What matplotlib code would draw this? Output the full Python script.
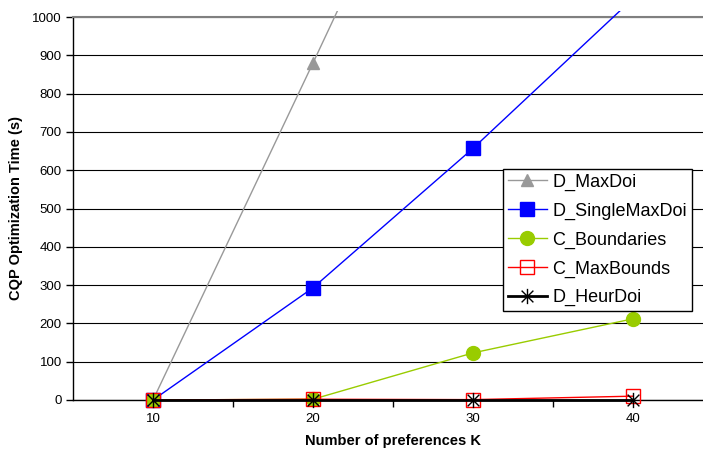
import matplotlib
matplotlib.use("Agg")
import matplotlib.pyplot as plt
from matplotlib.path import Path
from matplotlib.transforms import Bbox, TransformedBbox
from matplotlib.ticker import MultipleLocator, FixedLocator

plt.rcParams['font.family'] = ['Liberation Sans', 'DejaVu Sans']

# data
k_values = [10, 20, 30, 40]
d_maxdoi = [0, 880, 1770, 2700]
d_singlemaxdoi = [0, 293, 657, 1048]
c_boundaries = [0, 2, 123, 212]
c_maxbounds = [0, 2, 1, 10]
d_heurdoi = [0, 0, 0, 0]

# excel style star: X with a vertical bar
star = Path([(-1, -1), (1, 1), (-1, 1), (1, -1), (0, -1.3), (0, 1.3)],
            [Path.MOVETO, Path.LINETO, Path.MOVETO, Path.LINETO, Path.MOVETO, Path.LINETO])

fig = plt.figure(figsize=(7.03, 4.53), dpi=100)
ax = fig.add_axes([73 / 703, 53 / 453, 640 / 703, 383 / 453])

lines = []
lines += ax.plot(k_values, d_maxdoi, color='#999999', lw=1, marker='^', ms=8,
                 mfc='#999999', mec='#999999', label='D_MaxDoi')
lines += ax.plot(k_values, d_singlemaxdoi, color='#0000FF', lw=1, marker='s', ms=10,
                 mfc='#0000FF', mec='#0000FF', label='D_SingleMaxDoi')
lines += ax.plot(k_values, c_boundaries, color='#99CC00', lw=1, marker='o', ms=10,
                 mfc='#99CC00', mec='#99CC00', label='C_Boundaries')
lines += ax.plot(k_values, c_maxbounds, color='#FF0000', lw=1, marker='s', ms=10,
                 mfc='none', mec='#FF0000', label='C_MaxBounds')
lines += ax.plot(k_values, d_heurdoi, color='black', lw=2, marker=star, ms=11,
                 mec='black', mew=1, label='D_HeurDoi')

# let the markers sitting on 0 show fully, clip only at the top
clip = TransformedBbox(Bbox([[0, -0.05], [1, 1.015]]), ax.transAxes)
for ln in lines:
    ln.set_clip_box(clip)
    ln.set_zorder(3)

ax.set_xlim(5, 45)
ax.set_ylim(0, 1000)
ax.yaxis.set_major_locator(MultipleLocator(100))
ax.set_xticks(k_values)
ax.xaxis.set_minor_locator(FixedLocator([15, 25, 35, 45]))
ax.tick_params(axis='x', which='major', length=0, pad=9, labelsize=9.5)
ax.tick_params(axis='x', which='minor', length=5, width=1, direction='out')
ax.tick_params(axis='y', length=5, width=1, direction='out', labelsize=9.5, pad=3)

ax.grid(axis='y', color='black', lw=0.8)
ax.set_axisbelow(True)
for s in ['left', 'bottom']:
    ax.spines[s].set_color('black')
    ax.spines[s].set_linewidth(1)
ax.spines['top'].set_color('#808080')
ax.spines['top'].set_linewidth(1.5)
ax.spines['right'].set_visible(False)

ax.set_xlabel('Number of preferences K', fontsize=10.5, fontweight='bold', labelpad=7)
ax.set_ylabel('CQP Optimization Time (s)', fontsize=10.5, fontweight='bold', labelpad=7)

leg = ax.legend(loc='upper left', bbox_to_anchor=(0.672, 0.603), borderaxespad=0,
                fontsize=13, fancybox=False, framealpha=1, edgecolor='black',
                handlelength=2.2, handletextpad=0.28, borderpad=0.25, labelspacing=0.65)
leg.get_frame().set_linewidth(1)

fig.savefig('out.png', dpi=100)
